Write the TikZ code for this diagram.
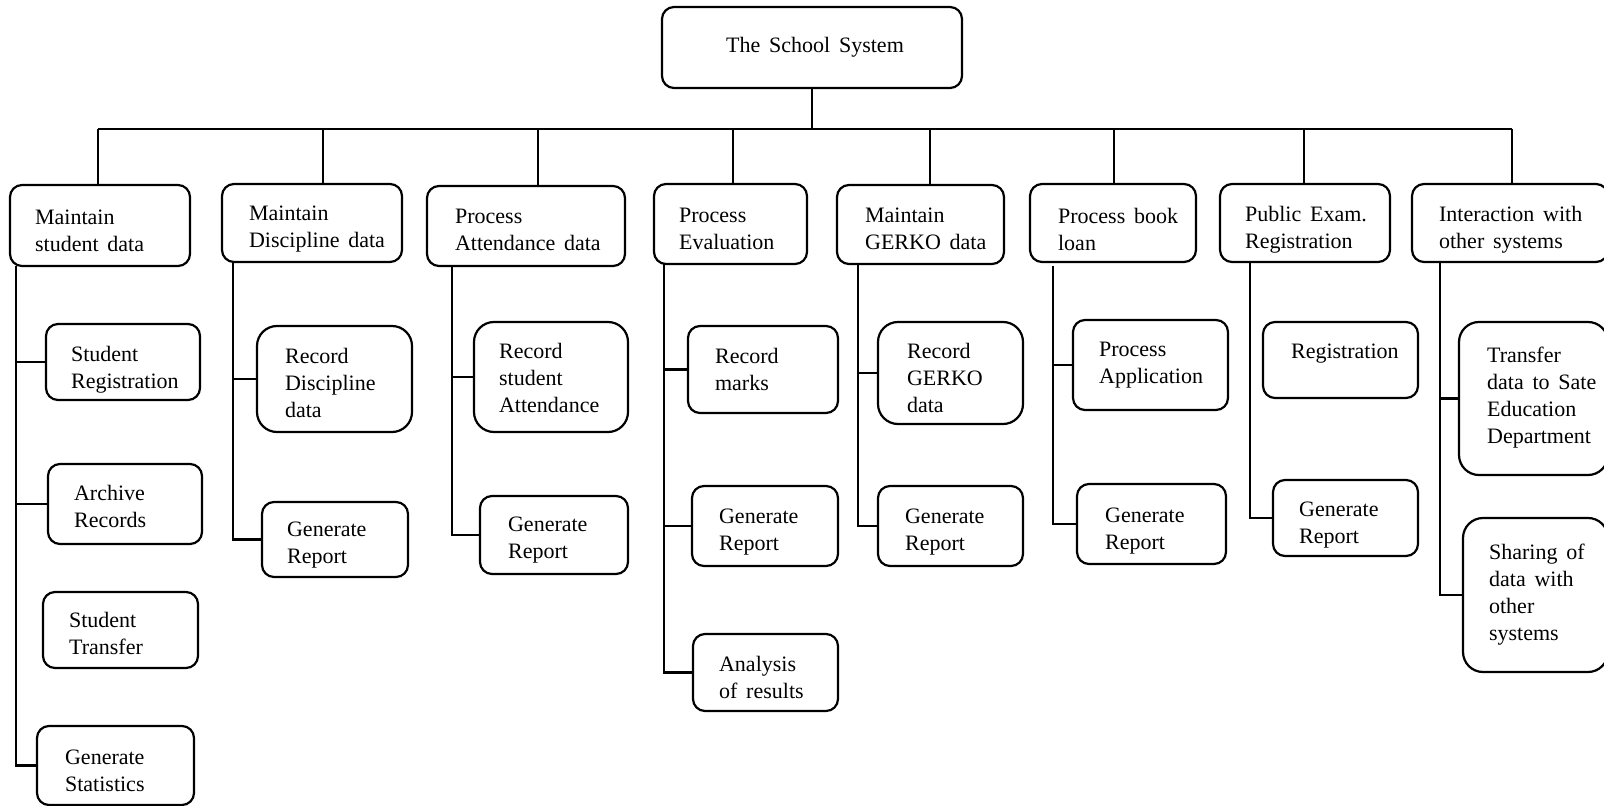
\documentclass[tikz,border=0pt]{standalone}
\usepackage{fontspec}
\setmainfont{Liberation Serif}[WordSpace=1.6]
\usetikzlibrary{fit}

\begin{document}
\begin{tikzpicture}[x=0.5pt, y=-0.5pt, line width=1.1pt,
		pbox/.style={draw, rounded corners=6pt, inner sep=0pt},
		tall/.style={rounded corners=10pt},
		txt/.style={anchor=north west, inner sep=0pt, align=left, font=\fontsize{11}{13.5}\selectfont}]
		\useasboundingbox (0,0) rectangle (1604,806);

		\node[pbox, fit={(662,7) (962,88)}] (root) {};
		\node[txt, anchor=base] (root-t) at (815,53) {The School System};
		\coordinate (bus) at (812,129);

		\node[pbox, fit={(10,185) (190,266)}] (b1) {};
		\node[pbox, fit={(222,184) (402,262)}] (b2) {};
		\node[pbox, fit={(427,186) (625,266)}] (b3) {};
		\node[pbox, fit={(654,184) (807,264)}] (b4) {};
		\node[pbox, fit={(837,185) (1004,264)}] (b5) {};
		\node[pbox, fit={(1030,184) (1196,262)}] (b6) {};
		\node[pbox, fit={(1220,184) (1390,262)}] (b7) {};
		\node[pbox, fit={(1412,184) (1608,262)}] (b8) {};
		\node[txt] (b1-t) at (34,209) {Maintain\\student data};
		\node[txt] (b2-t) at (248,205) {Maintain\\Discipline data};
		\node[txt] (b3-t) at (454,208) {Process\\Attendance data};
		\node[txt] (b4-t) at (678,207) {Process\\Evaluation};
		\node[txt] (b5-t) at (864,207) {Maintain\\GERKO data};
		\node[txt] (b6-t) at (1057,207) {Process book\\loan};
		\node[txt] (b7-t) at (1244,205) {Public Exam.\\Registration};
		\node[txt] (b8-t) at (1438,205) {Interaction with\\other systems};

		\coordinate (d1) at (98,185);
		\coordinate (d2) at (323,184);
		\coordinate (d3) at (538,186);
		\coordinate (d4) at (733,184);
		\coordinate (d5) at (930,185);
		\coordinate (d6) at (1114,184);
		\coordinate (d7) at (1304,184);
		\coordinate (d8) at (1512,184);
		\draw (root.south) -- (bus);
		\draw (bus -| d1) -- (bus -| d8);
		\foreach \i in {1,...,8}
			\draw (bus -| d\i) -- (d\i);

		\node[pbox, fit={(46,324) (200,400)}] (c1a) {};
		\node[pbox, fit={(48,464) (202,544)}] (c1b) {};
		\node[pbox, fit={(43,592) (198,668)}] (c1c) {};
		\node[pbox, fit={(37,726) (194,805)}] (c1d) {};
		\node[txt] (c1a-t) at (70,345) {Student\\Registration};
		\node[txt] (c1b-t) at (73,484) {Archive\\Records};
		\node[txt] (c1c-t) at (68,611) {Student\\Transfer};
		\node[txt] (c1d-t) at (64,749) {Generate\\Statistics};

		\node[pbox, tall, fit={(257,326) (412,432)}] (c2a) {};
		\node[pbox, fit={(262,502) (408,577)}] (c2b) {};
		\node[txt] (c2a-t) at (284,347) {Record\\Discipline\\data};
		\node[txt] (c2b-t) at (286,521) {Generate\\Report};

		\node[pbox, tall, fit={(474,322) (628,432)}] (c3a) {};
		\node[pbox, fit={(480,496) (628,574)}] (c3b) {};
		\node[txt] (c3a-t) at (498,342) {Record\\student\\Attendance};
		\node[txt] (c3b-t) at (507,516) {Generate\\Report};

		\node[pbox, fit={(688,326) (838,413)}] (c4a) {};
		\node[pbox, fit={(692,486) (838,566)}] (c4b) {};
		\node[pbox, fit={(693,634) (838,711)}] (c4c) {};
		\node[txt] (c4a-t) at (714,347) {Record\\marks};
		\node[txt] (c4b-t) at (718,508) {Generate\\Report};
		\node[txt] (c4c-t) at (718,655) {Analysis\\of results};

		\node[pbox, tall, fit={(878,322) (1023,424)}] (c5a) {};
		\node[pbox, fit={(878,486) (1023,566)}] (c5b) {};
		\node[txt] (c5a-t) at (906,342) {Record\\GERKO\\data};
		\node[txt] (c5b-t) at (904,508) {Generate\\Report};

		\node[pbox, fit={(1073,320) (1228,410)}] (c6a) {};
		\node[pbox, fit={(1077,484) (1226,564)}] (c6b) {};
		\node[txt] (c6a-t) at (1098,341) {Process\\Application};
		\node[txt] (c6b-t) at (1104,507) {Generate\\Report};

		\node[pbox, fit={(1263,322) (1418,398)}] (c7a) {};
		\node[pbox, fit={(1273,480) (1418,556)}] (c7b) {};
		\node[txt] (c7a-t) at (1290,343) {Registration};
		\node[txt] (c7b-t) at (1298,501) {Generate\\Report};

		\node[pbox, tall, fit={(1459,322) (1608,475)}] (c8a) {};
		\node[pbox, tall, fit={(1463,518) (1608,672)}] (c8b) {};
		\node[txt] (c8a-t) at (1486,346) {Transfer\\data to Sate\\Education\\Department};
		\node[txt] (c8b-t) at (1488,543) {Sharing of\\data with\\other\\systems};

		\coordinate (t1) at (16,266);
		\coordinate (t2) at (233,262);
		\coordinate (t3) at (452,266);
		\coordinate (t4) at (664,264);
		\coordinate (t5) at (858,264);
		\coordinate (t6) at (1053,266);
		\coordinate (t7) at (1250,262);
		\coordinate (t8) at (1440,262);
		\draw (t1) |- (c1d.west) (t1 |- c1a.west) -- (c1a.west) (t1 |- c1b.west) -- (c1b.west);
		\draw (t2) |- (c2b.west) (t2 |- c2a.west) -- (c2a.west);
		\draw (t3) |- (c3b.west) (t3 |- c3a.west) -- (c3a.west);
		\draw (t4) |- (c4c.west) (t4 |- c4a.west) -- (c4a.west) (t4 |- c4b.west) -- (c4b.west);
		\draw (t5) |- (c5b.west) (t5 |- c5a.west) -- (c5a.west);
		\draw (t6) |- (c6b.west) (t6 |- c6a.west) -- (c6a.west);
		\draw (t7) |- (c7b.west);
		\draw (t8) |- (c8b.west) (t8 |- c8a.west) -- (c8a.west);
	\end{tikzpicture}
\end{document}
